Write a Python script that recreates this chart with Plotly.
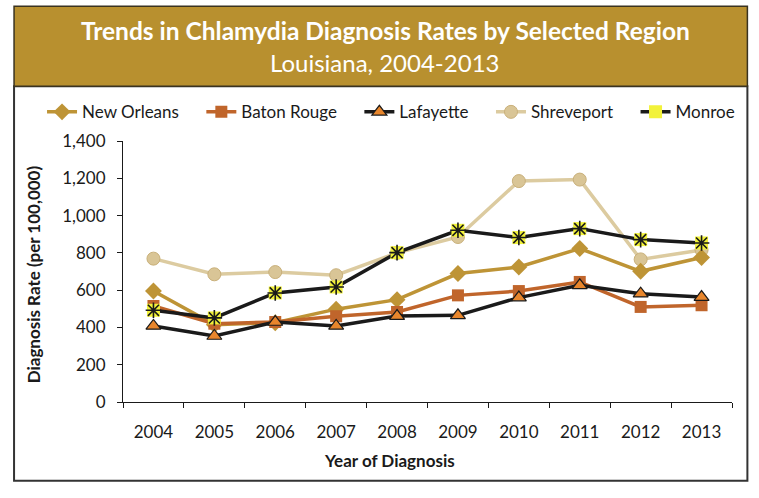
import plotly.graph_objects as go

years = ["2004", "2005", "2006", "2007", "2008", "2009", "2010", "2011", "2012", "2013"]
new_orleans = [595, 415, 425, 498, 549, 689, 724, 823, 701, 775]
baton_rouge = [515, 420, 429, 460, 483, 572, 595, 644, 510, 519]
lafayette = [408, 354, 429, 408, 461, 465, 560, 626, 581, 563]
shreveport = [769, 685, 697, 680, 800, 885, 1185, 1193, 765, 815]
monroe = [492, 451, 585, 617, 801, 921, 882, 930, 871, 853]
y_ticks = [0, 200, 400, 600, 800, 1000, 1200, 1400]

FONT = "Lato, 'Open Sans', sans-serif"
PAD = "\u00a0" * 4

fig = go.Figure()

fig.add_trace(go.Scatter(
    x=years, y=shreveport, name="Shreveport" + PAD, mode="lines+markers",
    line=dict(color="#DCCBA0", width=3.5),
    marker=dict(symbol="circle", size=13, color="#D9C596", line=dict(color="#C9B07A", width=1)),
    legendrank=4))
fig.add_trace(go.Scatter(
    x=years, y=new_orleans, name="New Orleans" + PAD, mode="lines+markers",
    line=dict(color="#BE9436", width=3.5),
    marker=dict(symbol="diamond", size=13, color="#BE9436"),
    legendrank=1))
fig.add_trace(go.Scatter(
    x=years, y=baton_rouge, name="Baton Rouge" + PAD, mode="lines+markers",
    line=dict(color="#C0652B", width=3.5),
    marker=dict(symbol="square", size=12, color="#C0652B"),
    legendrank=2))
fig.add_trace(go.Scatter(
    x=years, y=lafayette, name="Lafayette" + PAD, mode="lines+markers",
    line=dict(color="#1A1A1A", width=3.5),
    marker=dict(symbol="triangle-up", size=13, color="#E8862C", line=dict(color="#1A1A1A", width=1.2)),
    legendrank=3))
fig.add_trace(go.Scatter(
    x=years, y=monroe, name="Monroe", mode="lines+markers",
    line=dict(color="#1A1A1A", width=3.5),
    marker=dict(symbol="square", size=13, color="#F2F23A"),
    legendgroup="monroe", legendrank=5))
fig.add_trace(go.Scatter(
    x=years, y=monroe, name="Monroe", mode="markers",
    marker=dict(symbol="asterisk-open", size=13, color="#1A1A1A", line=dict(color="#1A1A1A", width=1.6)),
    legendgroup="monroe", showlegend=False, hoverinfo="skip"))

W, H = 759, 498
L, R, T, B = 123, 732.3, 140.7, 401.7
pw, ph = R - L, B - T

def px(x):
    return (x - L) / pw

def py(y):
    return (B - y) / ph

shapes = [
    dict(type="rect", xref="paper", yref="paper", x0=px(14), x1=px(747.7), y0=py(480.5), y1=py(86),
         line=dict(color="#333333", width=2), fillcolor="rgba(0,0,0,0)", layer="below"),
    dict(type="rect", xref="paper", yref="paper", x0=px(14), x1=px(747.7), y0=py(86), y1=py(6),
         line=dict(color="#3A3320", width=1.5), fillcolor="#B8902F", layer="below"),
]

annotations = [
    dict(text="<b>Trends in Chlamydia Diagnosis Rates by Selected Region</b>", xref="paper", yref="paper",
         x=px(386), y=py(30), showarrow=False, font=dict(family=FONT, size=24.5, color="white"),
         xanchor="center", yanchor="middle"),
    dict(text="Louisiana, 2004-2013", xref="paper", yref="paper",
         x=px(385), y=py(62), showarrow=False, font=dict(family=FONT, size=24, color="white"),
         xanchor="center", yanchor="middle"),
    dict(text="<b>Diagnosis Rate (per 100,000)</b>", xref="paper", yref="paper",
         x=px(33), y=py(274), showarrow=False, textangle=-90,
         font=dict(family=FONT, size=17, color="#1A1A1A"), xanchor="center", yanchor="middle"),
    dict(text="<b>Year of Diagnosis</b>", xref="paper", yref="paper",
         x=px(390), y=py(460), showarrow=False,
         font=dict(family=FONT, size=17, color="#1A1A1A"), xanchor="center", yanchor="middle"),
]

fig.update_layout(
    width=W, height=H,
    margin=dict(l=L, r=W - R, t=T, b=H - B, pad=0),
    paper_bgcolor="white", plot_bgcolor="white",
    font=dict(family=FONT, size=14, color="#1A1A1A"),
    shapes=shapes, annotations=annotations,
    showlegend=True,
    legend=dict(orientation="h", x=px(42), y=py(112), xanchor="left", yanchor="middle",
                font=dict(family=FONT, size=17, color="#1A1A1A"), bgcolor="rgba(0,0,0,0)",
                itemwidth=30, tracegroupgap=0),
    xaxis=dict(type="category", range=[-0.5, 9.5], showgrid=False, zeroline=False,
               showline=True, linecolor="#1A1A1A", linewidth=1.2,
               ticks="outside", tickson="boundaries", ticklen=5, tickcolor="#1A1A1A",
               ticklabelstandoff=14,
               tickfont=dict(family=FONT, size=17, color="#1A1A1A")),
    yaxis=dict(range=[0, 1400], tickvals=y_ticks, tickformat=",", showgrid=False, zeroline=False,
               showline=True, linecolor="#1A1A1A", linewidth=1.2,
               ticks="outside", ticklen=5, tickcolor="#1A1A1A",
               ticklabelstandoff=8,
               tickfont=dict(family=FONT, size=17, color="#1A1A1A")),
)

fig.write_html("out.html")
